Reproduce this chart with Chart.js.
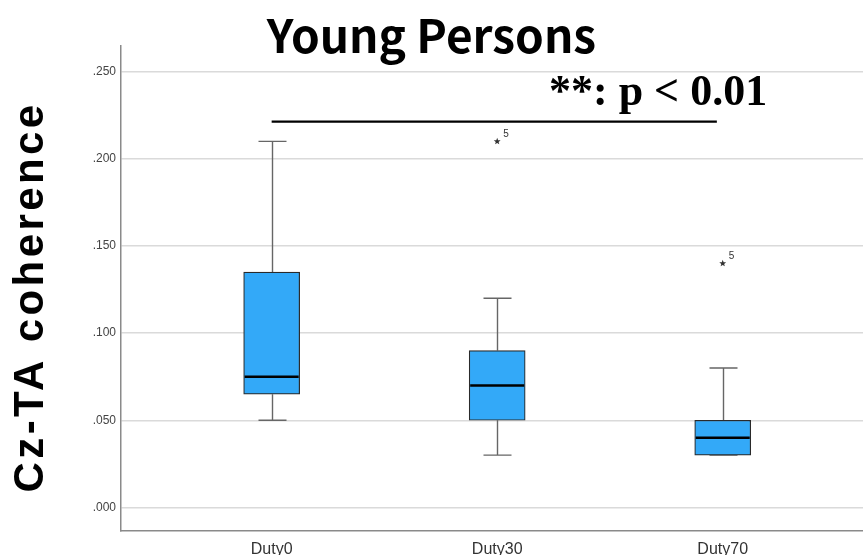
<!DOCTYPE html>
<html>
<head>
<meta charset="utf-8">
<script src="https://cdn.jsdelivr.net/npm/chart.js@4.4.1/dist/chart.umd.min.js"></script>
<style>
  html, body { margin: 0; padding: 0; background: #ffffff; overflow: hidden; }
  #wrap { width: 863px; height: 555px; }
</style>
</head>
<body>
<div id="wrap"><canvas id="c" width="863" height="555"></canvas></div>
<script>
// ---- data ----
const categories   = ['Duty0', 'Duty30', 'Duty70'];
const catPositions = [1, 2, 3];
const whiskerLow   = [0.050, 0.030, 0.030];
const quartile1    = [0.065, 0.050, 0.030];
const medians      = [0.075, 0.070, 0.040];
const quartile3    = [0.135, 0.090, 0.050];
const whiskerHigh  = [0.210, 0.120, 0.080];
const outlierCats   = [2, 3];
const outlierValues = [0.210, 0.140];
const outlierLabels = ['5', '5'];
const yTickValues  = [0, 0.05, 0.10, 0.15, 0.20, 0.25];
const sigLineX     = [1, 2.974];
const sigLineY     = 0.2213;
const titleText    = 'Young Persons';
const yTitleText   = 'Cz-TA coherence';
const sigText      = '**: p < 0.01';

// ---- styles ----
const BOX_FILL = '#33a9f8';
const BOX_EDGE = '#2a2a2a';
const WHISKER = '#666666';
const BOX_W = 56;
const CAP_W = 28;

const boxPlugin = {
  id: 'boxParts',
  beforeDatasetsDraw(chart) {
    const ctx = chart.ctx, xs = chart.scales.x, ys = chart.scales.y;
    ctx.save();
    ctx.strokeStyle = WHISKER;
    ctx.lineWidth = 1.4;
    catPositions.forEach((c, i) => {
      const px = Math.round(xs.getPixelForValue(c)) + 0.5;
      const yHi = ys.getPixelForValue(whiskerHigh[i]);
      const yLo = ys.getPixelForValue(whiskerLow[i]);
      const yQ1 = ys.getPixelForValue(quartile1[i]);
      const yQ3 = ys.getPixelForValue(quartile3[i]);
      ctx.beginPath();
      ctx.moveTo(px, yQ3); ctx.lineTo(px, yHi);
      ctx.moveTo(px, yQ1); ctx.lineTo(px, yLo);
      ctx.moveTo(px - CAP_W / 2, yHi); ctx.lineTo(px + CAP_W / 2, yHi);
      ctx.moveTo(px - CAP_W / 2, yLo); ctx.lineTo(px + CAP_W / 2, yLo);
      ctx.stroke();
    });
    ctx.restore();
  },
  afterDatasetsDraw(chart) {
    const ctx = chart.ctx, xs = chart.scales.x, ys = chart.scales.y;
    ctx.save();
    ctx.strokeStyle = '#000000';
    ctx.lineWidth = 2.5;
    catPositions.forEach((c, i) => {
      const px = xs.getPixelForValue(c);
      const ym = ys.getPixelForValue(medians[i]);
      ctx.beginPath();
      ctx.moveTo(px - BOX_W / 2 + 1, ym); ctx.lineTo(px + BOX_W / 2 - 1, ym);
      ctx.stroke();
    });
    // outliers
    outlierCats.forEach((c, i) => {
      const px = xs.getPixelForValue(c);
      const py = ys.getPixelForValue(outlierValues[i]);
      ctx.fillStyle = '#333333';
      ctx.beginPath();
      const R = 3.6, r = 1.5;
      for (let k = 0; k < 10; k++) {
        const ang = -Math.PI / 2 + k * Math.PI / 5;
        const rr = k % 2 === 0 ? R : r;
        const xx = px + rr * Math.cos(ang), yy = py + rr * Math.sin(ang);
        if (k === 0) ctx.moveTo(xx, yy); else ctx.lineTo(xx, yy);
      }
      ctx.closePath();
      ctx.fill();
      ctx.font = '10px "Liberation Sans", Arial, sans-serif';
      ctx.textAlign = 'left';
      ctx.textBaseline = 'alphabetic';
      ctx.fillStyle = '#333333';
      ctx.fillText(outlierLabels[i], px + 6, py - 4);
    });
    ctx.restore();
  },
  afterDraw(chart) {
    const ctx = chart.ctx;
    ctx.save();
    // y-axis title
    ctx.translate(43, 297);
    ctx.rotate(-Math.PI / 2);
    ctx.font = 'bold 42px "Liberation Sans", Arial, sans-serif';
    if ('letterSpacing' in ctx) ctx.letterSpacing = '3.4px';
    ctx.textAlign = 'center';
    ctx.textBaseline = 'alphabetic';
    ctx.fillStyle = '#000000';
    ctx.fillText(yTitleText, 0, 0);
    ctx.restore();
    // significance text
    ctx.save();
    ctx.font = 'bold 44px "Liberation Serif", "Times New Roman", serif';
    ctx.textAlign = 'left';
    ctx.textBaseline = 'alphabetic';
    ctx.fillStyle = '#000000';
    ctx.fillText(sigText, 549, 105);
    ctx.restore();
  }
};

new Chart(document.getElementById('c'), {
  type: 'bar',
  data: {
    datasets: [
      {
        type: 'bar',
        label: 'IQR',
        data: catPositions.map((c, i) => ({ x: c, y: [quartile1[i], quartile3[i]] })),
        backgroundColor: BOX_FILL,
        borderColor: BOX_EDGE,
        borderWidth: 1.2,
        borderSkipped: false,
        barThickness: BOX_W,
        order: 2
      },
      {
        type: 'line',
        label: 'significance',
        data: sigLineX.map(x => ({ x: x, y: sigLineY })),
        borderColor: '#000000',
        borderWidth: 2.3,
        pointRadius: 0,
        fill: false,
        order: 1
      }
    ]
  },
  options: {
    responsive: false,
    devicePixelRatio: 1,
    animation: false,
    events: [],
    layout: { padding: { left: 0, right: 0, top: 0, bottom: 0 } },
    plugins: {
      legend: { display: false },
      tooltip: { enabled: false },
      title: {
        display: true,
        text: titleText,
        color: '#000000',
        font: { family: '"Noto Sans CJK JP", "Noto Sans", sans-serif', size: 46, weight: 'bold', lineHeight: 0.48 },
        padding: { top: 24, bottom: 0 }
      }
    },
    scales: {
      x: {
        type: 'linear',
        offset: false,
        min: 0.332,
        max: 3.622,
        afterBuildTicks(s) { s.ticks = catPositions.map(v => ({ value: v })); },
        afterFit(s) { s.height = 24; },
        ticks: {
          callback: (v) => categories[catPositions.indexOf(v)] || '',
          color: '#333333',
          padding: 9,
          maxRotation: 0,
          autoSkip: false,
          font: { family: '"Liberation Sans Narrow", "Arial Narrow", "Liberation Sans", sans-serif', size: 16 }
        },
        grid: { display: false, drawTicks: false, offset: false },
        border: { display: true, color: '#8a8a8a', width: 1.5 }
      },
      y: {
        min: -0.01353,
        max: 0.2647,
        afterBuildTicks(s) { s.ticks = yTickValues.map(v => ({ value: v })); },
        afterFit(s) { s.width = 121; },
        ticks: {
          callback: (v) => v.toFixed(3).replace(/^0/, ''),
          color: '#444444',
          padding: 5,
          font: { family: '"Liberation Sans Narrow", "Arial Narrow", "Liberation Sans", sans-serif', size: 12 }
        },
        grid: { color: '#dadada', lineWidth: 1.5, drawTicks: false },
        border: { display: true, color: '#8a8a8a', width: 1.5 }
      }
    }
  },
  plugins: [boxPlugin]
});
</script>
</body>
</html>
